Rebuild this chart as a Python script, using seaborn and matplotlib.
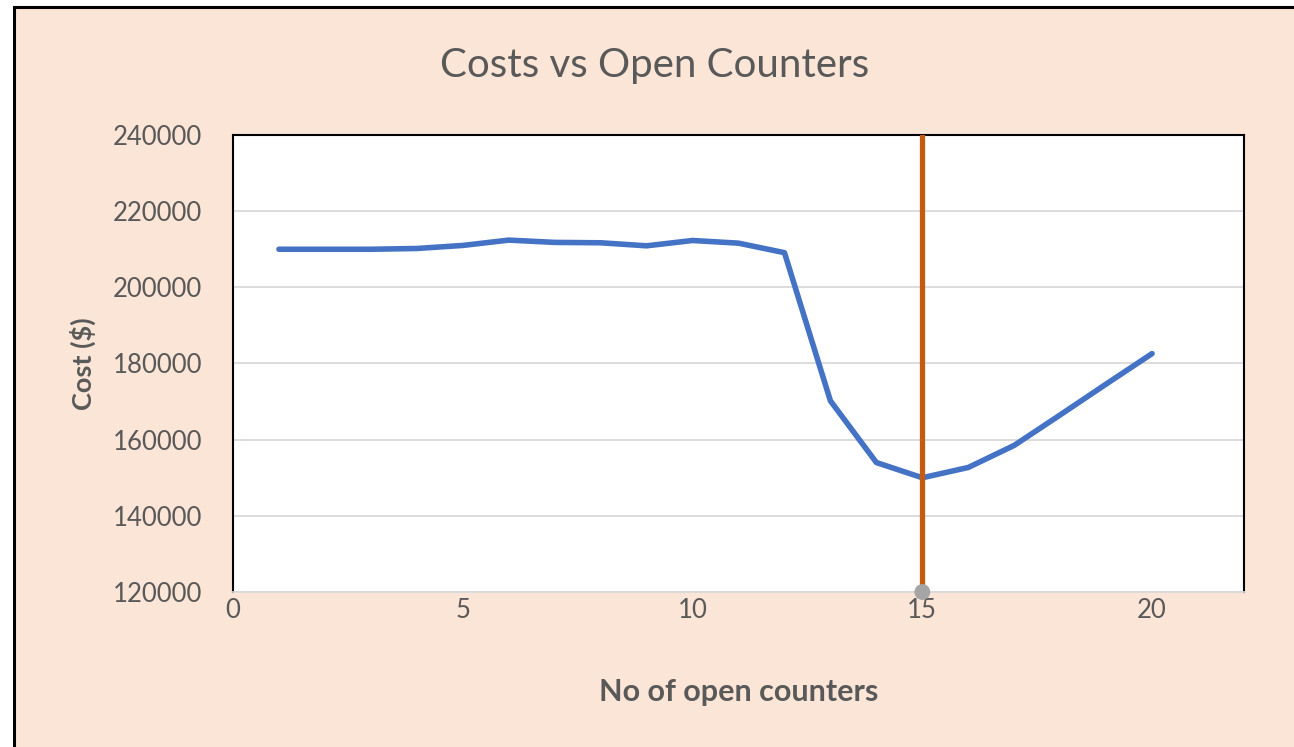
import matplotlib
matplotlib.use("Agg")
import matplotlib.pyplot as plt
import seaborn as sns
import pandas as pd
from matplotlib.patches import Rectangle
from matplotlib.ticker import FuncFormatter

# ---- data ----
counters = [1, 2, 3, 4, 5, 6, 7, 8, 9, 10, 11, 12, 13, 14, 15, 16, 17, 18, 19, 20]
costs = [210000, 210000, 210000, 210200, 211000, 212400, 211800, 211700, 210900, 212300,
         211600, 209100, 170200, 154000, 150000, 152700, 158500, 166500, 174600, 182600]
optimal_x = [15, 15]
optimal_y = [120000, 240000]
x_ticks = [0, 5, 10, 15, 20]
y_ticks = [120000, 140000, 160000, 180000, 200000, 220000, 240000]

title = "Costs vs Open Counters"
x_label = "No of open counters"
y_label = "Cost ($)"

# ---- style ----
sns.set_theme(style="white")
plt.rcParams['font.family'] = ['Lato', 'DejaVu Sans']

PEACH = "#FBE5D6"
TEXT = "#595959"
BLUE = "#4472C4"
ORANGE = "#C55A11"

fig = plt.figure(figsize=(12.94, 7.47), dpi=100)
fig.patch.set_facecolor("white")
fig.add_artist(Rectangle((14 / 1294, -0.5), 1.5, 1.5 - 7 / 747,
                         transform=fig.transFigure, facecolor=PEACH,
                         edgecolor="black", linewidth=2.2, zorder=0))

ax = fig.add_axes([233 / 1294, 1 - 592 / 747, (1244 - 233) / 1294, (592 - 135) / 747])
ax.set_facecolor("white")

df = pd.DataFrame({"counters": counters, "cost": costs})
sns.lineplot(data=df, x="counters", y="cost", ax=ax, color=BLUE, linewidth=4.0,
             estimator=None, solid_capstyle="round", solid_joinstyle="round", zorder=3)

opt = pd.DataFrame({"x": optimal_x, "y": optimal_y})
sns.lineplot(data=opt, x="x", y="y", ax=ax, color=ORANGE, linewidth=3.8,
             estimator=None, sort=False, zorder=4)
sns.scatterplot(x=optimal_x[:1], y=optimal_y[:1], ax=ax, color="#A5A5A5", s=130,
                edgecolor="none", zorder=5, clip_on=False)

ax.set_xlim(0, 22)
ax.set_ylim(120000, 240000)
ax.set_xticks(x_ticks)
ax.set_yticks(y_ticks)
ax.yaxis.set_major_formatter(FuncFormatter(lambda v, p: f"{v:.0f}"))
ax.grid(axis="y", color="#D9D9D9", linewidth=1.3)
ax.grid(axis="x", visible=False)
ax.set_axisbelow(True)
ax.set_xlabel("")
ax.set_ylabel("")

for s in ["left", "right", "top"]:
    ax.spines[s].set_color("black")
    ax.spines[s].set_linewidth(1.5)
ax.spines["bottom"].set_color("#D9D9D9")
ax.spines["bottom"].set_linewidth(1.3)

ax.tick_params(axis="both", length=0, labelsize=18.5, labelcolor=TEXT)
ax.tick_params(axis="x", pad=4)
ax.tick_params(axis="y", pad=22)

ax.set_xlabel(x_label, fontsize=22, fontweight="bold", color=TEXT, labelpad=40)
ax.set_ylabel(y_label, fontsize=19.5, fontweight="bold", color=TEXT, labelpad=12)
fig.text(655 / 1294, 1 - 66 / 747, title, ha="center", va="center",
         fontsize=29, color=TEXT)

fig.savefig("out.png", dpi=100, facecolor=fig.get_facecolor())
